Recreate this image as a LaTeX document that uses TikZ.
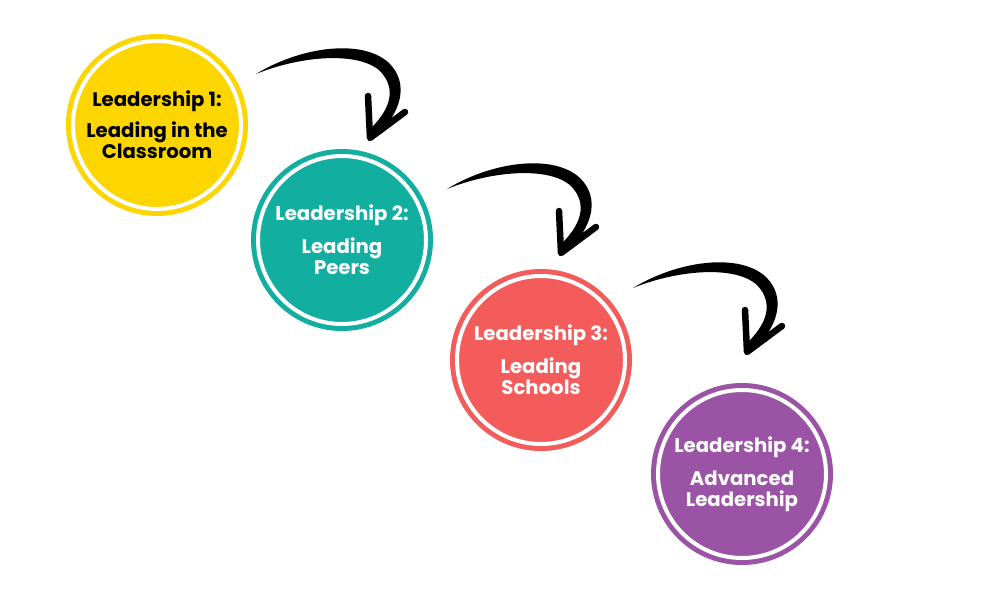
\documentclass[tikz,border=0pt]{standalone}
\usepackage{fontspec}
\setmainfont{Poppins}
\usetikzlibrary{positioning, calc}
\definecolor{cYellow}{RGB}{253,214,0}
\definecolor{cTeal}{RGB}{18,175,161}
\definecolor{cCoral}{RGB}{244,91,91}
\definecolor{cPurple}{RGB}{155,84,165}
\tikzset{
  stagenode/.style={circle, minimum size=33.6mm, inner sep=0pt,
                    line width=1mm, double=white, double distance=0.8mm,
                    align=center, font=\bfseries\fontsize{11.2}{12}\selectfont},
  curlyarrow/.pic={
    \fill (-1,0) .. controls (43,-27) and (105,-36) .. (132,-11)
          .. controls (153,10) and (144,39) .. (118,64)
          -- (110,58) .. controls (134,36) and (140,15) .. (123,-3)
          .. controls (101,-23) and (43,-18) .. (-1,0) -- cycle;
    \draw[line width=1.3mm, line cap=round, line join=round]
          (111,22) -- (113,64) -- (148,38);
  }
}

\begin{document}
\begin{tikzpicture}[x=0.2mm, y=-0.2mm]
  \useasboundingbox (0,0) rectangle (1000,600);
  \node[stagenode, fill=cYellow, draw=cYellow, text=black] (lead1) at (157,125)
    {Leadership 1:\\[5.5pt] Leading in the\\ Classroom};
  \node[stagenode, fill=cTeal, draw=cTeal, text=white] (lead2) at (342,240)
    {Leadership 2:\\[6.8pt] Leading\\ Peers};
  \node[stagenode, fill=cCoral, draw=cCoral, text=white] (lead3) at (541,360)
    {Leadership 3:\\[6.8pt] Leading\\ Schools};
  \node[stagenode, fill=cPurple, draw=cPurple, text=white] (lead4) at (742,474)
    {Leadership 4:\\[6.8pt] Advanced\\ Leadership};
  % arrows between the stages
  \coordinate (arr1) at (257,74);
  \coordinate (arr2) at (448,189);
  \coordinate (arr3) at (634,288);
  \foreach \a in {arr1, arr2, arr3}
    \pic at (\a) {curlyarrow};
\end{tikzpicture}
\end{document}
